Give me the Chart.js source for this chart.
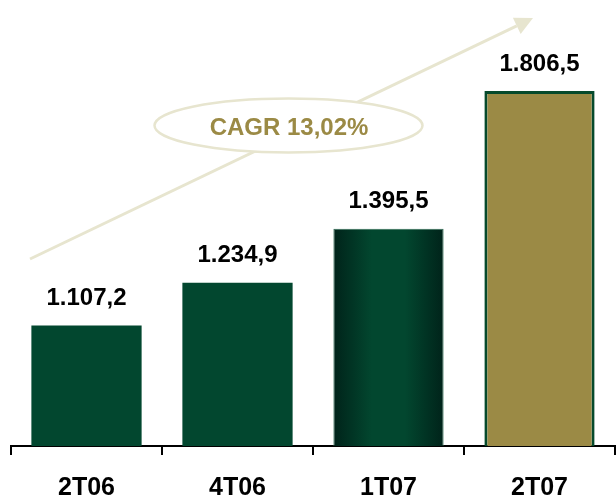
<!DOCTYPE html>
<html>
<head>
<meta charset="utf-8">
<script src="https://cdn.jsdelivr.net/npm/chart.js@4/dist/chart.umd.min.js"></script>
<style>
  html, body { margin: 0; padding: 0; background: #fff; }
  #wrap { width: 616px; height: 497px; }
</style>
</head>
<body>
<div id="wrap"><canvas id="chart"></canvas></div>
<script>
// --- data ---
const quarters = ['2T06', '4T06', '1T07', '2T07'];
const values = [1107.2, 1234.9, 1395.5, 1806.5];
const cagrLabel = 'CAGR 13,02%';

const GREEN = '#02472f';
const OLIVE = '#9b8a45';
const BEIGE = '#e7e5cf';
const BAR_PCT = 0.73;

const fmt = v => v.toLocaleString('pt-BR', { minimumFractionDigits: 1, maximumFractionDigits: 1 });

// bar 3 has a cylinder-like shading, bar 4 is olive
function barFill(ctx) {
  const chart = ctx.chart;
  const xs = chart.scales && chart.scales.x;
  if (ctx.dataIndex === 2 && xs && xs.width) {
    const cx = xs.getPixelForValue(2);
    const half = xs.width / quarters.length * BAR_PCT / 2;
    const g = chart.ctx.createLinearGradient(cx - half, 0, cx + half, 0);
    g.addColorStop(0, '#00231a');
    g.addColorStop(0.35, '#02472f');
    g.addColorStop(0.65, '#02472f');
    g.addColorStop(1, '#00231a');
    return g;
  }
  return ctx.dataIndex === 3 ? OLIVE : GREEN;
}

// arrow + CAGR ellipse behind the bars
const trendArrow = {
  id: 'trendArrow',
  beforeDatasetsDraw(chart) {
    const c = chart.ctx;
    const x0 = 30, y0 = 259, x1 = 533, y1 = 18;
    const len = Math.hypot(x1 - x0, y1 - y0);
    const ux = (x1 - x0) / len, uy = (y1 - y0) / len;
    const hl = 18, hw = 9;
    c.save();
    c.strokeStyle = BEIGE;
    c.fillStyle = BEIGE;
    c.lineWidth = 3;
    c.beginPath();
    c.moveTo(x0, y0);
    c.lineTo(x1 - ux * hl, y1 - uy * hl);
    c.stroke();
    const bx = x1 - ux * hl, by = y1 - uy * hl;
    c.beginPath();
    c.moveTo(x1, y1);
    c.lineTo(bx - uy * hw, by + ux * hw);
    c.lineTo(bx + uy * hw, by - ux * hw);
    c.closePath();
    c.fill();

    // ellipse
    c.beginPath();
    c.ellipse(288.5, 125.5, 134, 27, 0, 0, Math.PI * 2);
    c.fillStyle = '#fff';
    c.fill();
    c.lineWidth = 2.5;
    c.strokeStyle = BEIGE;
    c.stroke();

    c.fillStyle = OLIVE;
    c.font = 'bold 24px "Liberation Sans", Arial, sans-serif';
    c.textAlign = 'center';
    c.textBaseline = 'middle';
    c.fillText(cagrLabel, 289, 128);
    c.restore();
  }
};

// value labels above each bar
const valueLabels = {
  id: 'valueLabels',
  afterDatasetsDraw(chart) {
    const c = chart.ctx;
    c.save();
    c.fillStyle = '#000';
    c.font = 'bold 24px "Liberation Sans", Arial, sans-serif';
    c.textAlign = 'center';
    c.textBaseline = 'middle';
    chart.getDatasetMeta(0).data.forEach((bar, i) => {
      c.fillText(fmt(values[i]), bar.x, bar.y - 27);
    });
    c.restore();
  }
};

new Chart(document.getElementById('chart'), {
  type: 'bar',
  data: {
    labels: quarters,
    datasets: [{
      data: values,
      backgroundColor: barFill,
      borderColor: ['rgba(0,0,0,0)', 'rgba(0,0,0,0)', '#2d6b52', '#064a2c'],
      borderWidth: [0, 0, 1, 3],
      borderSkipped: 'bottom',
      categoryPercentage: 1,
      barPercentage: BAR_PCT,
    }]
  },
  options: {
    responsive: true,
    maintainAspectRatio: false,
    animation: false,
    layout: { padding: { top: 26, left: 11, right: 1, bottom: 0 } },
    plugins: {
      legend: { display: false },
      tooltip: { enabled: false },
    },
    scales: {
      x: {
        afterFit(scale) { scale.height = 51; },
        grid: {
          offset: true,
          drawOnChartArea: false,
          drawTicks: true,
          tickLength: 9,
          color: '#000',
          lineWidth: 2,
        },
        border: { color: '#000', width: 2 },
        ticks: {
          color: '#000',
          padding: 18,
          font: { family: '"Liberation Sans", Arial, sans-serif', size: 25, weight: 'bold' },
        },
      },
      y: {
        display: false,
        min: 748,
        max: 2000,
      }
    }
  },
  plugins: [trendArrow, valueLabels]
});
</script>
</body>
</html>
